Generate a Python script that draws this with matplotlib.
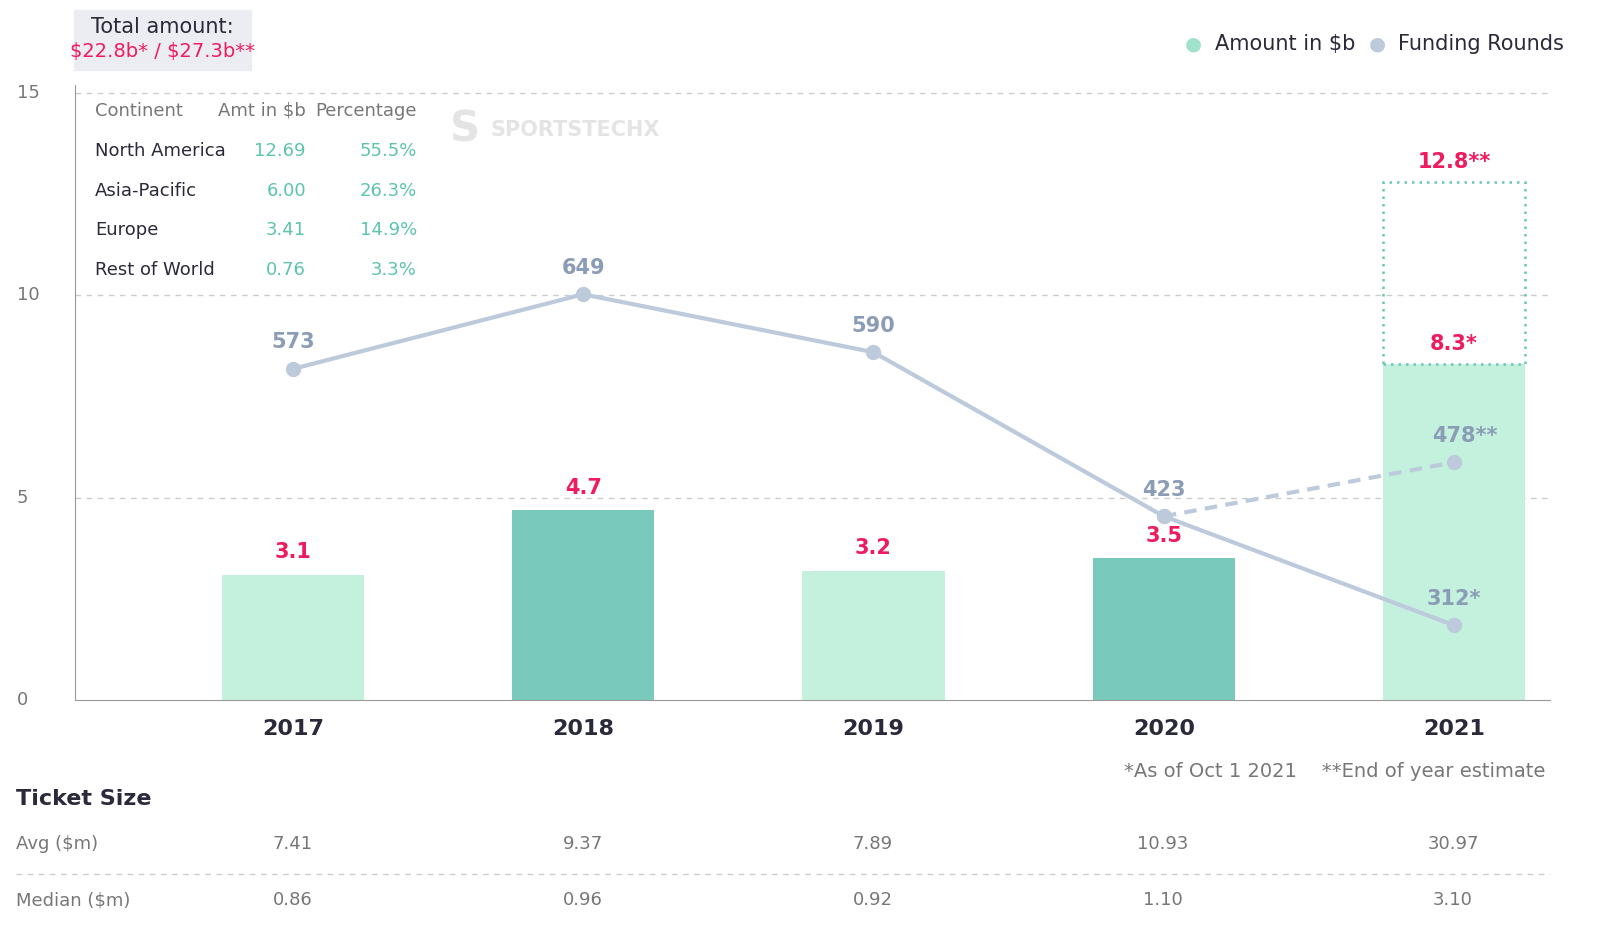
import matplotlib
matplotlib.use("Agg")
import matplotlib.pyplot as plt
from matplotlib.patches import Rectangle
from matplotlib import transforms

years = ["2017", "2018", "2019", "2020", "2021"]
amount = [3.1, 4.7, 3.2, 3.5, 8.3]
amount_labels = ["3.1", "4.7", "3.2", "3.5", "8.3*"]
amount_est_2021 = 12.8
rounds = [573, 649, 590, 423, 312]
rounds_est_2021 = 478
avg_ticket = ["7.41", "9.37", "7.89", "10.93", "30.97"]
median_ticket = ["0.86", "0.96", "0.92", "1.10", "3.10"]
continents = ["North America", "Asia-Pacific", "Europe", "Rest of World"]
cont_amt = ["12.69", "6.00", "3.41", "0.76"]
cont_pct = ["55.5%", "26.3%", "14.9%", "3.3%"]
yticks = [0, 5, 10, 15]

LIGHT = "#c3f1dd"; DARK = "#79cabc"; RED = "#ee1c5e"; LINE = "#bccadb"
LBL = "#8a9cb6"; TXT = "#2a2a3a"; GREY = "#777777"

fig = plt.figure(figsize=(16.14, 9.46), dpi=100)
ax = fig.add_axes([75/1614, 1-700/946, 1475/1614, 615/946])
x = list(range(len(years)))
cols = [LIGHT, DARK, LIGHT, DARK, LIGHT]
ax.bar(x, amount, width=0.49, color=cols, zorder=2)
ax.add_patch(Rectangle((4-0.245, amount[4]), 0.49, amount_est_2021-amount[4], fill=False,
                       ls=(0, (1, 2)), ec="#6cc7b5", lw=1.8, zorder=3))
for i, (v, l) in enumerate(zip(amount, amount_labels)):
    ax.text(i, v+0.3 if i < 4 else v+0.25, l, ha="center", va="bottom", color=RED, fontsize=15, fontweight="bold")
ax.text(4, amount_est_2021+0.25, "12.8**", ha="center", va="bottom", color=RED, fontsize=15, fontweight="bold")
ax.set_xlim(-0.75, 4.33)
ax.set_ylim(0, 15.2)
ax.set_yticks([])
tr = transforms.blended_transform_factory(fig.transFigure, ax.transData)
for yv in yticks:
    ax.text(17/1614, yv, str(yv), transform=tr, ha="left", va="center", color=GREY, fontsize=13)
for yv in yticks[1:]:
    ax.axhline(yv, color="#cccccc", ls=(0, (4, 4)), lw=1, zorder=0)
ax.set_xticks(x)
ax.set_xticklabels(years, fontsize=16, fontweight="bold", color=TXT)
ax.tick_params(axis="x", length=0, pad=14)
for s in ["top", "right"]:
    ax.spines[s].set_visible(False)
ax.spines["left"].set_color("#999999"); ax.spines["bottom"].set_color("#999999")

ax2 = ax.twinx()
ax2.set_ylim(236, 862)
ax2.axis("off")
ax2.plot(x, rounds, color=LINE, lw=3, marker="o", ms=10, zorder=4)
ax2.plot([3, 4], [rounds[3], rounds_est_2021], color=LINE, lw=3, ls=(0, (3, 2)), marker="o", ms=10)
rl = ["573", "649", "590", "423", "312*"]
for i, r in enumerate(rounds):
    ax2.annotate(rl[i], (i, r), xytext=(0, 12), textcoords="offset points", ha="center",
                 va="bottom", color=LBL, fontsize=15, fontweight="bold")
ax2.annotate("478**", (4, rounds_est_2021), xytext=(8, 12), textcoords="offset points", ha="center",
             va="bottom", color=LBL, fontsize=15, fontweight="bold")

def ft(px, py, s, **kw):
    fig.text(px/1614, 1-py/946, s, va="center", **kw)
ft(95, 111, "Continent", color=GREY, fontsize=13)
ft(306, 111, "Amt in $b", color=GREY, fontsize=13, ha="right")
ft(417, 111, "Percentage", color=GREY, fontsize=13, ha="right")
for k, (c, a, p) in enumerate(zip(continents, cont_amt, cont_pct)):
    yy = 151 + k*39.5
    ft(95, yy, c, color=TXT, fontsize=13)
    ft(306, yy, a, color="#5cc4ae", fontsize=13, ha="right")
    ft(417, yy, p, color="#5cc4ae", fontsize=13, ha="right")
ft(490, 130, "SPORTSTECHX", color="#e4e4e4", fontsize=15, fontweight="bold")
ft(450, 130, "S", color="#e4e4e4", fontsize=30, fontweight="bold")

fig.patches.append(Rectangle((74/1614, 1-70/946), 177/1614, 60/946, transform=fig.transFigure,
                             color="#ebedf2", zorder=0))
ft(162, 27, "Total amount:", color=TXT, fontsize=15, ha="center")
ft(162, 51, "\\$22.8b* / \\$27.3b**", color=RED, fontsize=14, ha="center")

ft(1193, 44, "\u25cf", color="#9fe3cc", fontsize=14, ha="center")
ft(1215, 44, "Amount in $b", color=TXT, fontsize=15)
ft(1377, 44, "\u25cf", color=LINE, fontsize=14, ha="center")
ft(1398, 44, "Funding Rounds", color=TXT, fontsize=15)

ft(1545, 771, "*As of Oct 1 2021    **End of year estimate", color=GREY, fontsize=14, ha="right")
ft(16, 799, "Ticket Size", color=TXT, fontsize=16, fontweight="bold")
ft(16, 844, "Avg ($m)", color=GREY, fontsize=13)
ft(16, 900, "Median ($m)", color=GREY, fontsize=13)
xc = [293, 583, 873, 1163, 1453]
for i in range(5):
    ft(xc[i], 844, avg_ticket[i], color=GREY, fontsize=13, ha="center")
    ft(xc[i], 900, median_ticket[i], color=GREY, fontsize=13, ha="center")
fig.add_artist(plt.Line2D([16/1614, 1550/1614], [1-874/946]*2, color="#cccccc", ls=(0, (4, 4)), lw=1))

fig.savefig("out.png", dpi=100, facecolor="white")
